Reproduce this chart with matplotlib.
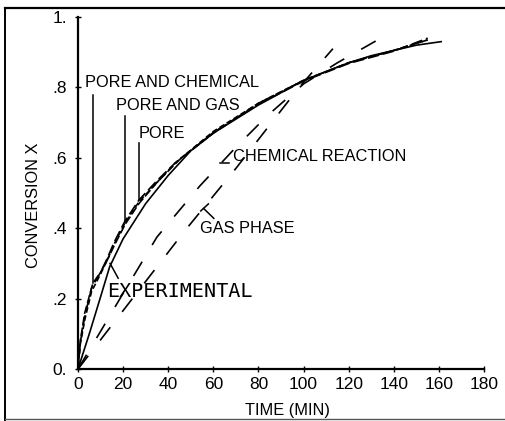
import matplotlib
matplotlib.use("Agg")
import matplotlib.pyplot as plt
from matplotlib.lines import Line2D

plt.rcParams["font.family"] = ["Liberation Sans", "DejaVu Sans"]
plt.rcParams["lines.scale_dashes"] = False

# experimental conversion curve
t_exp = [0, 5, 10, 14, 20, 30, 40, 50, 60, 70, 80, 90, 100, 110, 120, 130, 140, 150, 161]
x_exp = [0, 0.10, 0.205, 0.29, 0.37, 0.47, 0.55, 0.62, 0.67, 0.71, 0.75, 0.785,
         0.82, 0.845, 0.87, 0.89, 0.905, 0.92, 0.93]

# combined-resistance models
t_pc = [0, 1, 3, 6.6, 10, 13, 16, 20.8, 27, 35, 45, 60, 80, 100, 120, 140, 155]
x_pc = [0, 0.08, 0.16, 0.244, 0.275, 0.31, 0.35, 0.41, 0.47, 0.53, 0.595, 0.67,
        0.755, 0.82, 0.87, 0.905, 0.935]
t_pg = [0, 1, 3, 6, 10, 13, 16, 20.8, 27, 35, 43, 60, 80, 100, 120, 140, 155]
x_pg = [0, 0.07, 0.14, 0.22, 0.27, 0.31, 0.355, 0.415, 0.475, 0.53, 0.585, 0.675,
        0.755, 0.82, 0.87, 0.905, 0.935]
t_pore = [0, 1, 3, 6, 10, 13, 16, 20.8, 27, 35, 43, 60, 80, 100, 120, 140, 155]
x_pore = [0, 0.075, 0.15, 0.23, 0.275, 0.315, 0.36, 0.42, 0.48, 0.535, 0.585, 0.672,
          0.752, 0.818, 0.868, 0.903, 0.94]

# single-resistance models
t_chem = [0, 10, 20, 35, 54, 70, 84, 100, 115, 137]
x_chem = [0, 0.107, 0.215, 0.375, 0.52, 0.63, 0.72, 0.81, 0.87, 0.95]
t_gas = [0, 47, 70, 98, 113]
x_gas = [0, 0.39, 0.57, 0.80, 0.91]

xticks = [0, 20, 40, 60, 80, 100, 120, 140, 160, 180]
yticks = [0, 0.2, 0.4, 0.6, 0.8, 1.0]
ytick_labels = ["0.", ".2", ".4", ".6", ".8", "1."]

fig = plt.figure(figsize=(5.05, 4.21), dpi=100)
ax = fig.add_axes([0.1545, 0.1235, 0.8040, 0.8361])

lw = 1.2
ax.plot(t_exp, x_exp, color="black", lw=lw)
ax.plot(t_pc, x_pc, color="black", lw=lw, linestyle=(0, (6, 2)))
ax.plot(t_pg, x_pg, color="black", lw=lw, linestyle=(1, (4, 2)))
ax.plot(t_pore, x_pore, color="black", lw=lw, linestyle=(2, (8, 3)))
ax.plot(t_chem, x_chem, color="black", lw=lw, linestyle=(0, (12, 14)))
ax.plot(t_gas, x_gas, color="black", lw=lw, linestyle=(0, (12, 14)))

ax.set_xlim(0, 180)
ax.set_ylim(0, 1)
for side in ("top", "right"):
    ax.spines[side].set_visible(False)
for side in ("left", "bottom"):
    ax.spines[side].set_linewidth(1.6)

ax.set_xticks(xticks)
ax.set_yticks(yticks)
ax.set_yticklabels(ytick_labels)
ax.tick_params(direction="inout", length=4, width=1.0, labelsize=12.5, pad=4)
ax.tick_params(axis="y", pad=6)

ax.set_xlabel("TIME (MIN)", fontsize=11.8)
ax.set_ylabel("CONVERSION X", fontsize=11.8)
ax.xaxis.set_label_coords(0.515, -0.097)
ax.yaxis.set_label_coords(-0.09, 0.466)

# curve labels with leader lines
fs = 11.8
ax.text(3.1, 0.813, "PORE AND CHEMICAL", fontsize=fs, va="center", ha="left")
ax.plot([6.6, 6.6], [0.778, 0.244], color="black", lw=1.1)
ax.text(16.8, 0.75, "PORE AND GAS", fontsize=fs, va="center", ha="left")
ax.plot([20.8, 20.8], [0.72, 0.415], color="black", lw=1.1)
ax.text(26.7, 0.67, "PORE", fontsize=fs, va="center", ha="left")
ax.plot([27, 27], [0.642, 0.48], color="black", lw=1.1)

ax.text(68.8, 0.603, "CHEMICAL REACTION", fontsize=fs, va="center", ha="left")
ax.plot([63, 67], [0.585, 0.585], color="black", lw=1.1)

ax.text(54, 0.40, "GAS PHASE", fontsize=fs, va="center", ha="left")
ax.plot([55.7, 60.2], [0.456, 0.428], color="black", lw=1.1)
ax.plot([54.4, 57.8], [0.449, 0.469], color="black", lw=1.1)

ax.text(12.7, 0.22, "EXPERIMENTAL", fontsize=14.5, va="center", ha="left",
        family=["DejaVu Sans Mono"])
ax.plot([14.2, 17.8], [0.30, 0.258], color="black", lw=1.1)

# page frame
fig.add_artist(Line2D([0.0099, 0.0099], [0.981, 0.0], transform=fig.transFigure,
                      color="black", lw=1.4))
fig.add_artist(Line2D([0.0099, 1.0], [0.981, 0.981], transform=fig.transFigure,
                      color="black", lw=1.6))
fig.add_artist(Line2D([0.0099, 1.0], [0.004, 0.004], transform=fig.transFigure,
                      color="#555555", lw=1.0))

fig.savefig("out.png", dpi=100)
